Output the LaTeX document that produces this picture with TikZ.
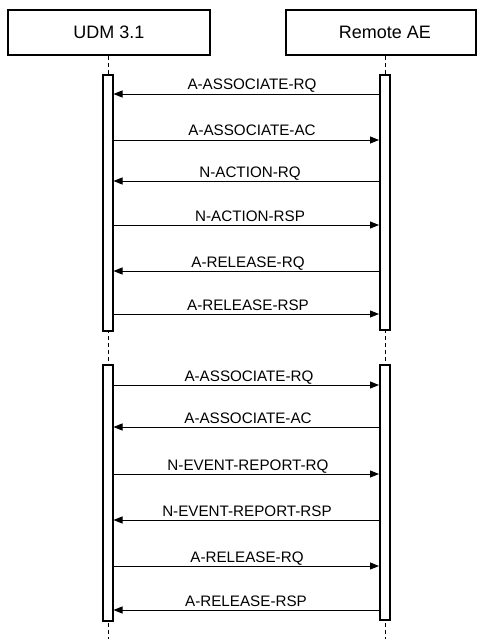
\documentclass[tikz,border=0pt]{standalone}
\usepackage{fontspec}
\setmainfont{Liberation Sans}
\usetikzlibrary{arrows.meta}
\begin{document}
\begin{tikzpicture}[x=1pt,y=-1pt,
  head/.style={draw=black,line width=2pt,fill=white,minimum width=202pt,minimum height=45pt,inner sep=0pt,font=\fontsize{18}{21}\selectfont},
  bar/.style={draw=black,line width=2pt,fill=white,minimum width=10pt,inner sep=0pt},
  life/.style={line width=0.9pt,dash pattern=on 4pt off 3pt},
  msg/.style={line width=0.9pt,-{Triangle[length=9pt,width=7pt]}},
  lbl/.style={anchor=base,inner sep=0pt,font=\fontsize{15.2}{18}\selectfont}]
\useasboundingbox (0,0) rectangle (477,639);
% headers
\node[head] (hL) at (109,32.5) {UDM 3.1};
\node[head,minimum width=190pt] (hR) at (380.5,32.5) {\hspace*{9pt}Remote AE};
% lifelines
\coordinate (eL) at (108,639);
\coordinate (eR) at (385,639);
\draw[life] (hL.south -| eL) -- (eL);
\draw[life] (hR.south -| eR) -- (eR);
% activation bars
\node[bar,minimum height=256pt] (bL1) at (107.5,203) {};
\node[bar,minimum height=255pt] (bR1) at (385,202.5) {};
\node[bar,minimum height=256pt] (bL2) at (107.5,493) {};
\node[bar,minimum height=255pt] (bR2) at (385,492.5) {};
\coordinate (sL1) at ([xshift=-2pt]bL1.east);
\coordinate (sL2) at ([xshift=-2pt]bL2.east);
% messages, first association
\draw[msg] (bR1.west |- 0,94) -- (bL1.east |- 0,94);
\node[lbl] (t1) at (252,90) {A-ASSOCIATE-RQ};
\draw[msg] (sL1 |- 0,140) -- (bR1.west |- 0,140);
\node[lbl] (t2) at (252,136) {A-ASSOCIATE-AC};
\draw[msg] (bR1.west |- 0,181) -- (bL1.east |- 0,181);
\node[lbl] (t3) at (250,177) {N-ACTION-RQ};
\draw[msg] (sL1 |- 0,225) -- (bR1.west |- 0,225);
\node[lbl] (t4) at (250,221) {N-ACTION-RSP};
\draw[msg] (bR1.west |- 0,271) -- (bL1.east |- 0,271);
\node[lbl] (t5) at (248,267) {A-RELEASE-RQ};
\draw[msg] (sL1 |- 0,314) -- (bR1.west |- 0,314);
\node[lbl] (t6) at (248,310) {A-RELEASE-RSP};
% messages, second association
\draw[msg] (sL2 |- 0,385) -- (bR2.west |- 0,385);
\node[lbl] (t7) at (249,381) {A-ASSOCIATE-RQ};
\draw[msg] (bR2.west |- 0,427) -- (bL2.east |- 0,427);
\node[lbl] (t8) at (248,423) {A-ASSOCIATE-AC};
\draw[msg] (sL2 |- 0,474) -- (bR2.west |- 0,474);
\node[lbl] (t9) at (248,470) {N-EVENT-REPORT-RQ};
\draw[msg] (bR2.west |- 0,520) -- (bL2.east |- 0,520);
\node[lbl] (t10) at (247,516) {N-EVENT-REPORT-RSP};
\draw[msg] (sL2 |- 0,566) -- (bR2.west |- 0,566);
\node[lbl] (t11) at (247,562) {A-RELEASE-RQ};
\draw[msg] (bR2.west |- 0,610) -- (bL2.east |- 0,610);
\node[lbl] (t12) at (246,606) {A-RELEASE-RSP};
\end{tikzpicture}
\end{document}
